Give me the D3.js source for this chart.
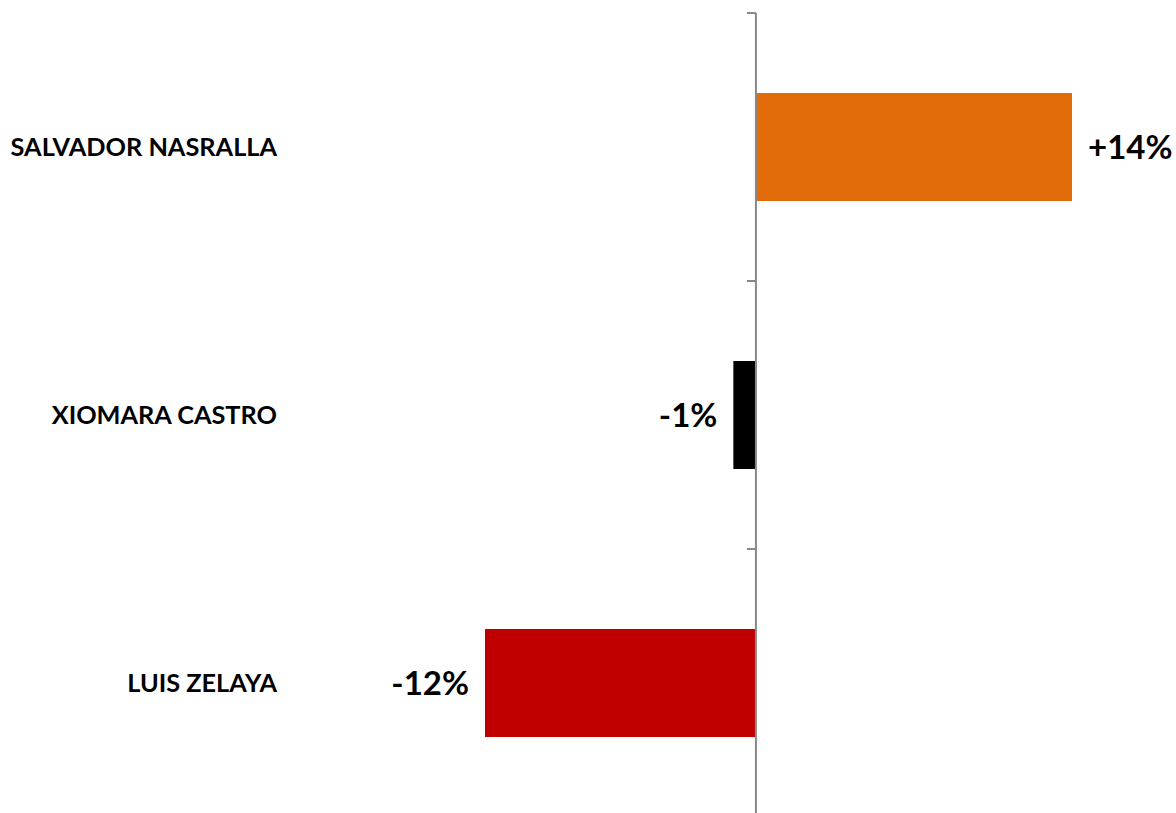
<!DOCTYPE html>
<html>
<head>
<meta charset="utf-8">
<script src="https://cdn.jsdelivr.net/npm/d3@7"></script>
<style>
  body { margin: 0; background: #fff; }
  text { font-family: Lato, "Open Sans", sans-serif; font-weight: bold; fill: #000; }
</style>
</head>
<body>
<div class="canva"></div>
<script>
// data
const candidates = ["SALVADOR NASRALLA", "XIOMARA CASTRO", "LUIS ZELAYA"]
const change = [14, -1, -12]
const valueLabels = ["+14%", "-1%", "-12%"]
const barColors = ["#e36c0a", "#000000", "#c00000"]

const width = 1176, height = 813

function render() {
    const svg = d3.select('.canva').append('svg')
        .attr('width', width)
        .attr('height', height)

    const x = d3.scaleLinear().domain([-12, 14]).range([485, 1072])
    const y = d3.scaleBand().domain(candidates).range([13, 817])
        .paddingInner(0.597).paddingOuter(0.2985)

    const rows = candidates.map((c, i) => ({name: c, v: change[i], label: valueLabels[i], color: barColors[i]}))

    // bars
    svg.selectAll("rect.bar")
        .data(rows)
        .enter().append("rect")
        .attr("class", "bar")
        .attr("x", d => Math.min(x(0), x(d.v)))
        .attr("y", d => y(d.name))
        .attr("width", d => Math.abs(x(d.v) - x(0)))
        .attr("height", y.bandwidth())
        .attr("fill", d => d.color)

    // vertical axis with ticks at category boundaries
    const x0 = x(0)
    svg.append("line")
        .attr("x1", x0).attr("x2", x0)
        .attr("y1", 13).attr("y2", 817)
        .attr("stroke", "#888").attr("stroke-width", 2)
    const bounds = d3.range(candidates.length + 1).map(i => 13 + i * y.step())
    svg.selectAll("line.tick")
        .data(bounds)
        .enter().append("line")
        .attr("class", "tick")
        .attr("x1", x0 - 9).attr("x2", x0)
        .attr("y1", d => d).attr("y2", d => d)
        .attr("stroke", "#888").attr("stroke-width", 2)

    // category labels
    svg.selectAll("text.cat")
        .data(rows)
        .enter().append("text")
        .attr("class", "cat")
        .attr("x", 277)
        .attr("y", d => y(d.name) + y.bandwidth() / 2)
        .attr("dy", "0.35em")
        .attr("text-anchor", "end")
        .style("font-size", "25.3px")
        .text(d => d.name)

    // value labels
    svg.selectAll("text.val")
        .data(rows)
        .enter().append("text")
        .attr("class", "val")
        .attr("x", d => d.v >= 0 ? x(d.v) + 16 : x(d.v) - 16)
        .attr("y", d => y(d.name) + y.bandwidth() / 2)
        .attr("dy", "0.36em")
        .attr("text-anchor", d => d.v >= 0 ? "start" : "end")
        .style("font-size", "33px")
        .text(d => d.label)
}

render()
</script>
</body>
</html>
